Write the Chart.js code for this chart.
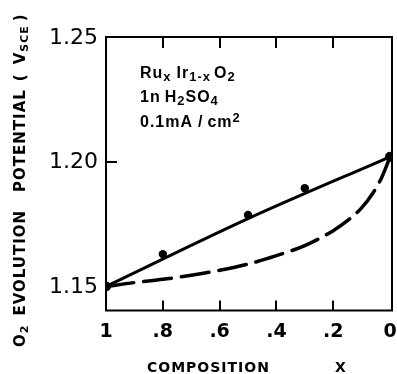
<!DOCTYPE html>
<html>
<head>
<meta charset="utf-8">
<script src="https://cdn.jsdelivr.net/npm/chart.js@4/dist/chart.umd.min.js"></script>
<style>
  html, body { margin: 0; padding: 0; background: #ffffff; }
  #wrap { width: 397px; height: 374px; }
</style>
</head>
<body>
<div id="wrap"><canvas id="c" width="397" height="374"></canvas></div>
<script>
// Measured oxygen evolution potential of Ru(x)Ir(1-x)O2 electrodes
const composition = [1, 0.8, 0.5, 0.3, 0];
const potential = [1.150, 1.163, 1.1787, 1.1894, 1.202];

// Solid line drawn through the measurements
const fitX = [1, 0.5, 0];
const fitY = [1.150, 1.1772, 1.202];

// Dashed curve for comparison
const curveX = [1, 0.9, 0.8, 0.7, 0.6, 0.5, 0.4, 0.3, 0.2, 0.15, 0.1, 0.06, 0.03, 0.01, 0];
const curveY = [1.150, 1.1516, 1.1529, 1.1545, 1.1565, 1.1590, 1.1624, 1.1664, 1.1724, 1.1764, 1.1815, 1.1875, 1.1935, 1.1990, 1.2020];

// Axis ticks
const xTickValues = [1, 0.8, 0.6, 0.4, 0.2, 0];
const xTickLabels = ['1', '.8', '.6', '.4', '.2', '0'];
const yTickValues = [1.15, 1.20, 1.25];
const yTickLabels = ['1.15', '1.20', '1.25'];

const toPoints = (xs, ys) => xs.map((x, i) => ({ x: x, y: ys[i] }));

// Draws a sequence of text runs (normal / subscript / superscript / gap)
function drawRuns(ctx, runs, x, y, mainFont, smallFont, spacing) {
  let cx = x;
  for (const r of runs) {
    if (r.gap !== undefined) { cx += r.gap; continue; }
    const small = r.k === 'sub' || r.k === 'sup';
    ctx.font = small ? smallFont : mainFont;
    ctx.letterSpacing = spacing;
    const dy = r.k === 'sub' ? 3 : (r.k === 'sup' ? -5 : 0);
    ctx.fillText(r.t, cx, y + dy);
    cx += ctx.measureText(r.t).width;
  }
  ctx.letterSpacing = '0px';
}

const framePlugin = {
  id: 'frame',
  afterDraw(chart) {
    const ctx = chart.ctx;
    const a = chart.chartArea;
    const xs = chart.scales.x;
    const ys = chart.scales.y;
    ctx.save();
    ctx.fillStyle = '#000';
    ctx.strokeStyle = '#000';

    // plot frame
    ctx.lineWidth = 2;
    ctx.strokeRect(a.left, a.top, a.right - a.left, a.bottom - a.top);

    // inward tick marks
    ctx.beginPath();
    xTickValues.forEach(v => {
      if (v === 1 || v === 0) return;
      const px = Math.round(xs.getPixelForValue(v));
      ctx.moveTo(px, a.top); ctx.lineTo(px, a.top + 11);
      ctx.moveTo(px, a.bottom); ctx.lineTo(px, a.bottom - 10);
    });
    const py20 = Math.round(ys.getPixelForValue(1.20));
    ctx.moveTo(a.left, py20); ctx.lineTo(a.left + 11, py20);
    ctx.stroke();

    // y tick labels
    ctx.font = '22px "DejaVu Sans"';
    ctx.textAlign = 'right';
    ctx.textBaseline = 'middle';
    yTickValues.forEach((v, i) => {
      ctx.fillText(yTickLabels[i], 98, ys.getPixelForValue(v) + 1);
    });

    // x tick labels
    ctx.font = 'bold 19px "DejaVu Sans"';
    ctx.textAlign = 'center';
    ctx.textBaseline = 'alphabetic';
    xTickValues.forEach((v, i) => {
      ctx.fillText(xTickLabels[i], xs.getPixelForValue(v), 337);
    });

    // x axis title
    ctx.textAlign = 'left';
    ctx.font = 'bold 14px "DejaVu Sans"';
    ctx.letterSpacing = '1px';
    ctx.fillText('COMPOSITION', 147, 371.5);
    ctx.fillText('X', 335, 371.5);
    ctx.letterSpacing = '0px';

    // y axis title (rotated)
    ctx.save();
    ctx.translate(25, 347);
    ctx.rotate(-Math.PI / 2);
    drawRuns(ctx, [
      { t: 'O' }, { t: '2', k: 'sub' }, { gap: 9 },
      { t: 'EVOLUTION' }, { gap: 18 },
      { t: 'POTENTIAL' }, { gap: 8 },
      { t: '(' }, { gap: 9 },
      { t: 'V' }, { t: 'SCE', k: 'sub' }, { gap: 4 },
      { t: ')' }
    ], 0, 0, 'bold 15px "DejaVu Sans"', 'bold 11px "DejaVu Sans"', '1px');
    ctx.restore();

    // annotation block
    const mainF = 'bold 16px "Liberation Sans"';
    const smallF = 'bold 13px "Liberation Sans"';
    drawRuns(ctx, [
      { t: 'Ru' }, { t: 'x', k: 'sub' }, { gap: 5 },
      { t: 'Ir' }, { t: '1-x', k: 'sub' }, { gap: 3 },
      { t: 'O' }, { t: '2', k: 'sub' }
    ], 140, 78, mainF, smallF, '1px');
    drawRuns(ctx, [
      { t: '1n' }, { gap: 4 },
      { t: 'H' }, { t: '2', k: 'sub' },
      { t: 'SO' }, { t: '4', k: 'sub' }
    ], 140, 102, mainF, smallF, '1px');
    drawRuns(ctx, [
      { t: '0.1mA' }, { gap: 5 },
      { t: '/' }, { gap: 4 },
      { t: 'cm' }, { t: '2', k: 'sup' }
    ], 140, 127, mainF, smallF, '1px');

    ctx.restore();
  }
};

new Chart(document.getElementById('c'), {
  type: 'scatter',
  data: {
    datasets: [
      {
        label: 'curve',
        data: toPoints(curveX, curveY),
        showLine: true,
        borderColor: '#000',
        borderWidth: 3.5,
        borderDash: [28, 10],
        borderCapStyle: 'round',
        pointRadius: 0,
        cubicInterpolationMode: 'monotone',
        fill: false
      },
      {
        label: 'fit',
        data: toPoints(fitX, fitY),
        showLine: true,
        borderColor: '#000',
        borderWidth: 3,
        pointRadius: 0,
        cubicInterpolationMode: 'monotone',
        fill: false
      },
      {
        label: 'measured',
        data: toPoints(composition, potential),
        showLine: false,
        backgroundColor: '#000',
        borderColor: '#000',
        borderWidth: 0,
        pointRadius: ctx => (ctx.dataIndex === 0 || ctx.dataIndex === composition.length - 1) ? 5 : 4.2
      }
    ]
  },
  options: {
    responsive: false,
    animation: false,
    devicePixelRatio: 1,
    layout: { padding: { left: 106, right: 4, top: 37, bottom: 63.5 } },
    plugins: { legend: { display: false }, tooltip: { enabled: false } },
    scales: {
      x: { type: 'linear', reverse: true, min: -0.007, max: 1, display: false },
      y: { type: 'linear', min: 1.1404, max: 1.25, display: false }
    }
  },
  plugins: [framePlugin]
});
</script>
</body>
</html>
